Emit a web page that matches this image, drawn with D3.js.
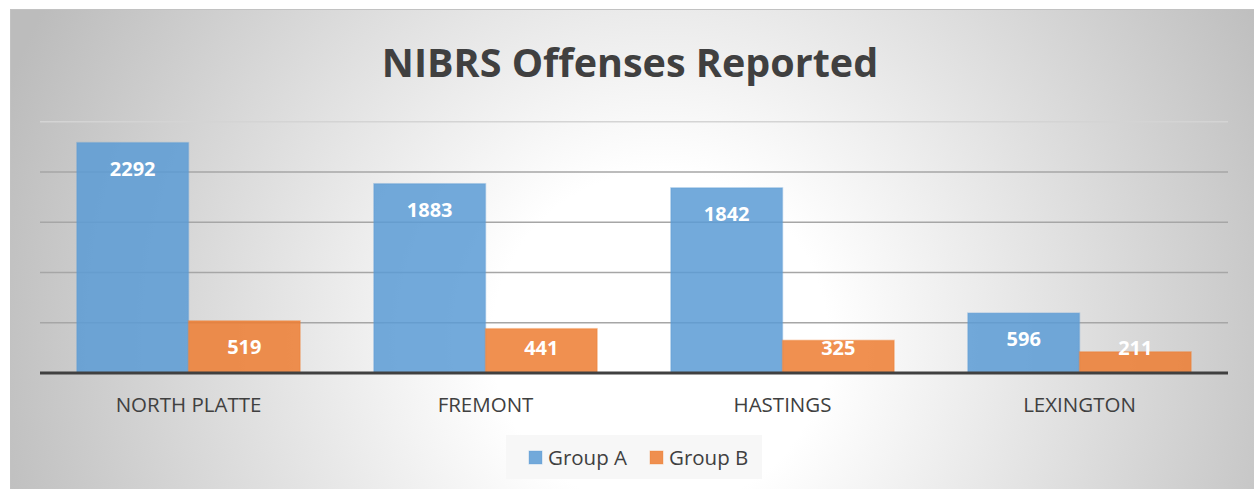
<!DOCTYPE html>
<html>
<head>
<meta charset="utf-8">
<script src="https://cdn.jsdelivr.net/npm/d3@7"></script>
<style>
  body { margin: 0; background: #fff; }
  text { font-family: "Open Sans", sans-serif; }
</style>
</head>
<body>
<div id="root"></div>
<script>
const categories = ["NORTH PLATTE", "FREMONT", "HASTINGS", "LEXINGTON"];
const groupNames = ["Group A", "Group B"];
const groupA = [2292, 1883, 1842, 596];
const groupB = [519, 441, 325, 211];
const gridTicks = [500, 1000, 1500, 2000, 2500];
const colors = ["#5b9bd5", "#ed7d31"];

const width = 1254,
    height = 489;

const svg = d3.select("#root").append("svg")
    .attr("width", width)
    .attr("height", height);

// background gradient
const defs = svg.append("defs");
const grad = defs.append("radialGradient")
    .attr("id", "bg")
    .attr("gradientUnits", "userSpaceOnUse")
    .attr("cx", 660).attr("cy", 340).attr("r", 700);
grad.append("stop").attr("offset", "0").attr("stop-color", "#ffffff");
grad.append("stop").attr("offset", "0.24").attr("stop-color", "#ffffff");
grad.append("stop").attr("offset", "1").attr("stop-color", "#bcbcbc");

svg.append("rect")
    .attr("x", 10.5).attr("y", 9.5)
    .attr("width", width - 10).attr("height", height - 9)
    .attr("fill", "url(#bg)")
    .attr("stroke", "#c2c2c2");

svg.append("text")
    .attr("x", 630)
    .attr("y", 77)
    .attr("text-anchor", "middle")
    .attr("font-size", 39.5)
    .attr("font-weight", "bold")
    .attr("fill", "#404040")
    .text("NIBRS Offenses Reported");

const x = d3.scaleBand()
    .domain(categories)
    .range([40, 1228]);

const xs = d3.scaleBand()
    .domain(groupNames)
    .range([0, x.bandwidth()])
    .paddingOuter(0.33);

const y = d3.scaleLinear()
    .domain([0, 2500])
    .range([373, 121.7]);

// gridlines
svg.append("g")
    .selectAll("line")
    .data(gridTicks)
    .enter()
    .append("line")
    .attr("x1", 40).attr("x2", 1228)
    .attr("y1", d => y(d)).attr("y2", d => y(d))
    .attr("stroke", d => d === 2500 ? "#d4d4d4" : "#a6a6a6")
    .attr("stroke-width", 1.5);

const rows = categories.map((c, i) => ({ cat: c, values: [groupA[i], groupB[i]] }));

const cat = svg.selectAll(".cat")
    .data(rows)
    .enter()
    .append("g")
    .attr("class", "cat")
    .attr("transform", d => "translate(" + x(d.cat) + ",0)");

const bar = cat.selectAll(".bar")
    .data(d => d.values.map((v, j) => ({ key: groupNames[j], value: v, j: j })))
    .enter()
    .append("g")
    .attr("class", "bar");

bar.append("rect")
    .attr("x", d => xs(d.key))
    .attr("y", d => y(d.value))
    .attr("width", xs.bandwidth())
    .attr("height", d => y(0) - y(d.value))
    .attr("fill", d => colors[d.j])
    .attr("fill-opacity", 0.85)
    .attr("stroke", d => colors[d.j])
    .attr("stroke-opacity", 0.35)
    .attr("stroke-width", 1.5);

// data labels (inside end, pushed up when bar is short)
bar.append("text")
    .attr("x", d => xs(d.key) + xs.bandwidth() / 2)
    .attr("y", d => Math.min(y(d.value) + 26, y(0) - 25.5))
    .attr("dy", "0.36em")
    .attr("text-anchor", "middle")
    .attr("font-size", 20)
    .attr("font-weight", "bold")
    .attr("fill", "#ffffff")
    .text(d => d.value);

// baseline
svg.append("line")
    .attr("x1", 40).attr("x2", 1228)
    .attr("y1", y(0)).attr("y2", y(0))
    .attr("stroke", "#404040")
    .attr("stroke-width", 3);

// category labels
svg.append("g")
    .selectAll("text")
    .data(categories)
    .enter()
    .append("text")
    .attr("x", d => x(d) + x.bandwidth() / 2)
    .attr("y", 412)
    .attr("text-anchor", "middle")
    .attr("font-size", 20.5)
    .attr("fill", "#404040")
    .text(d => d);

// legend
const legend = svg.append("g");
legend.append("rect")
    .attr("x", 506).attr("y", 435)
    .attr("width", 256).attr("height", 44)
    .attr("fill", "#f7f7f7");

const item = legend.selectAll(".item")
    .data(groupNames)
    .enter()
    .append("g")
    .attr("class", "item")
    .attr("transform", (d, i) => "translate(" + (529 + i * 121) + ",451)");

item.append("rect")
    .attr("width", 13).attr("height", 13)
    .attr("fill", (d, i) => colors[i])
    .attr("fill-opacity", 0.85)
    .attr("stroke", (d, i) => colors[i])
    .attr("stroke-opacity", 0.35);

item.append("text")
    .attr("x", 19)
    .attr("y", 14)
    .attr("font-size", 20.5)
    .attr("fill", "#404040")
    .text(d => d);
</script>
</body>
</html>
